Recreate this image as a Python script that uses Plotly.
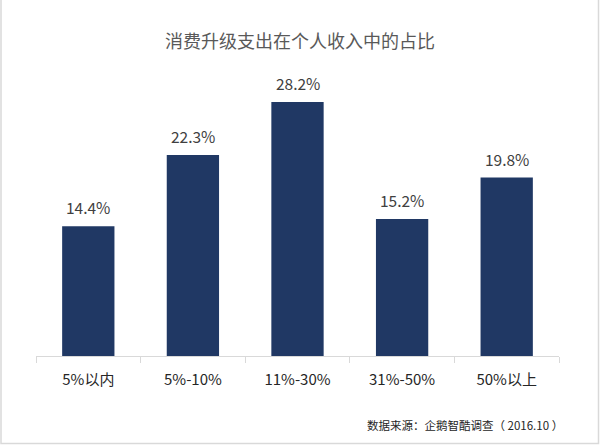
import plotly.graph_objects as go

categories = ["5%以内", "5%-10%", "11%-30%", "31%-50%", "50%以上"]
values = [14.4, 22.3, 28.2, 15.2, 19.8]
value_labels = ["14.4%", "22.3%", "28.2%", "15.2%", "19.8%"]
title_text = "消费升级支出在个人收入中的占比"
source_text = "数据来源：企鹅智酷调查（ 2016.10 ）"

W, H = 600, 445
ML, MR, MT, MB = 36, 41, 68, 89
PW, PH = W - ML - MR, H - MT - MB

FONT = "Noto Sans CJK SC, Microsoft YaHei, sans-serif"

fig = go.Figure()
fig.add_trace(go.Bar(
    x=categories, y=values,
    marker=dict(color="#203864", line=dict(width=0)),
    width=0.5, hoverinfo="skip",
))

for c, v, t in zip(categories, values, value_labels):
    fig.add_annotation(x=c, y=v, text=t, showarrow=False, yanchor="bottom",
                       yshift=6, font=dict(size=15.5, color="#404040", family=FONT))

fig.add_annotation(xref="paper", yref="paper",
                   x=(565 - ML) / PW, y=(356 - 425) / PH,
                   xanchor="right", yanchor="middle", showarrow=False,
                   text=source_text, font=dict(size=11.5, color="#262626", family=FONT))

# light frame around the picture
fig.add_shape(type="rect", xref="paper", yref="paper",
              x0=(1 - ML) / PW, x1=(598.5 - ML) / PW,
              y0=(356 - 443.5) / PH, y1=(356 + 10) / PH,
              line=dict(color="#d9d9d9", width=1.5), layer="below")

fig.update_layout(
    width=W, height=H,
    margin=dict(l=ML, r=MR, t=MT, b=MB),
    paper_bgcolor="white", plot_bgcolor="white",
    showlegend=False,
    title=dict(text=title_text, x=0.5, xref="container", xanchor="center",
               y=1 - 42 / H, yanchor="middle", yref="container",
               font=dict(size=18, color="#595959", family=FONT)),
    font=dict(family=FONT),
    bargap=0.5,
    xaxis=dict(showline=True, linecolor="#d9d9d9", linewidth=1,
               ticks="outside", tickson="boundaries", ticklen=6,
               tickcolor="#d9d9d9", tickwidth=1,
               tickfont=dict(size=15, color="#262626", family=FONT),
               ticklabelstandoff=10, fixedrange=True),
    yaxis=dict(range=[0, PH / 9.01], showgrid=False, zeroline=False,
               showticklabels=False, fixedrange=True),
)

fig.write_html("out.html")
